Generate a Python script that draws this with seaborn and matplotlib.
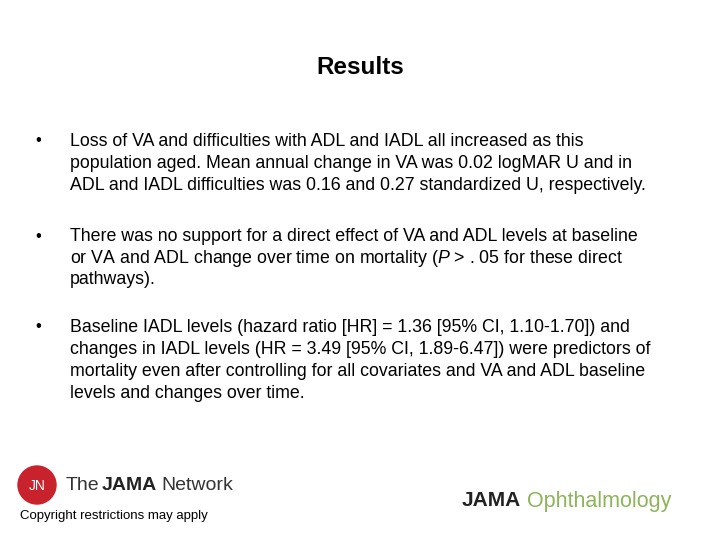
import matplotlib
import matplotlib.pyplot as plt
import seaborn as sns
from matplotlib.patches import Circle

matplotlib.use("Agg")

TITLE = "Results"
BULLETS = [
    [
        "Loss of VA and difficulties with ADL and IADL all increased as this",
        "population aged. Mean annual change in VA was 0.02 logMAR U and in",
        "ADL and IADL difficulties was 0.16 and 0.27 standardized U, respectively.",
    ],
    [
        "There was no support for a direct effect of VA and ADL levels at baseline",
        "or VA and ADL change over time on mortality ($\\it{P}$ > . 05 for these direct",
        "pathways).",
    ],
    [
        "Baseline IADL levels (hazard ratio [HR] = 1.36 [95% CI, 1.10-1.70]) and",
        "changes in IADL levels (HR = 3.49 [95% CI, 1.89-6.47]) were predictors of",
        "mortality even after controlling for all covariates and VA and ADL baseline",
        "levels and changes over time.",
    ],
]
BULLET_TOPS = [141, 236, 327]
LINE_STEP = 22

sns.set_theme(style="white")
plt.rcParams["font.family"] = ["Liberation Sans", "DejaVu Sans"]
plt.rcParams["mathtext.fontset"] = "custom"
plt.rcParams["mathtext.it"] = "Liberation Sans:italic"
plt.rcParams["mathtext.rm"] = "Liberation Sans"

W, H = 720, 540
fig = plt.figure(figsize=(7.2, 5.4), dpi=100)
fig.patch.set_facecolor("white")


def px(x, y):
    return x / W, 1 - y / H


fig.text(*px(360, 68), TITLE, ha="center", va="center", fontsize=17.5, fontweight="bold", color="black")

for top, lines in zip(BULLET_TOPS, BULLETS):
    fig.text(*px(38, top), "\u2022", ha="center", va="center", fontsize=12, color="black")
    for i, line in enumerate(lines):
        fig.text(*px(70, top + i * LINE_STEP), line, ha="left", va="center", fontsize=12.8, color="black")

# JAMA Network logo
ax = fig.add_axes([0, 0, 1, 1])
ax.set_xlim(0, W)
ax.set_ylim(H, 0)
ax.axis("off")
ax.add_patch(Circle((37, 485), 19, color="#c8232c"))
ax.text(37, 486, "JN", color="white", ha="center", va="center", fontsize=10)
ax.text(66, 486, "The", ha="left", va="center", fontsize=14, color="#333333")
ax.text(102, 486, "JAMA", ha="left", va="center", fontsize=14, fontweight="bold", color="#222222")
ax.text(161, 486, "Network", ha="left", va="center", fontsize=14, color="#333333")
ax.text(20, 516, "Copyright restrictions may apply", ha="left", va="center", fontsize=9.5, color="black")

# JAMA Ophthalmology logo
ax.text(462, 501, "JAMA", ha="left", va="center", fontsize=15, fontweight="bold", color="#222222")
ax.text(527, 501, "Ophthalmology", ha="left", va="center", fontsize=15.5, color="#8db45a")

fig.savefig("out.png", dpi=100, facecolor="white")
